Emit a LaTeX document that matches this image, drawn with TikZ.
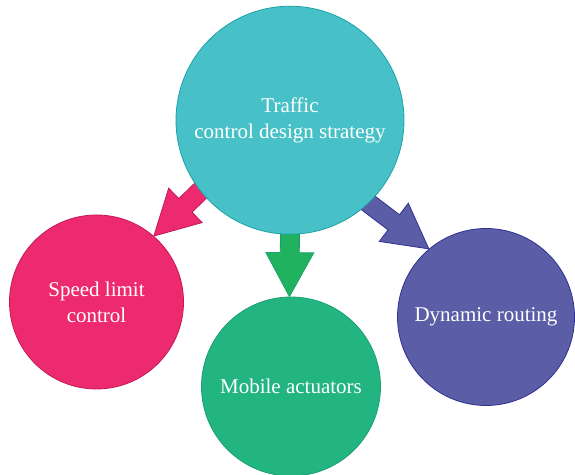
\documentclass[tikz,border=0pt]{standalone}
\usepackage{fontspec}
\setmainfont{Liberation Serif}
\usetikzlibrary{calc,backgrounds}

\definecolor{hubfill}{HTML}{47C1C7}
\definecolor{hubline}{HTML}{1AA3A6}
\definecolor{pinkfill}{HTML}{EE2A6F}
\definecolor{pinkline}{HTML}{C2185B}
\definecolor{greenfill}{HTML}{22B582}
\definecolor{greenline}{HTML}{1BA06E}
\definecolor{arrowgreen}{HTML}{20B25E}
\definecolor{purplefill}{HTML}{5B5EA6}
\definecolor{purpleline}{HTML}{2E3192}

% block arrow from #2 to #3 (tip), drawn with style #1
\newcommand\blockarrow[3]{%
  \coordinate (ba-s) at (#2);
  \coordinate (ba-t) at (#3);
  \coordinate (ba-h) at ($(ba-t)!44pt!(ba-s)$);
  \draw [#1] ($(ba-s)!9.5pt!90:(ba-t)$) -- ($(ba-h)!9.5pt!90:(ba-t)$)
    -- ($(ba-h)!24pt!90:(ba-t)$) -- (ba-t) -- ($(ba-h)!24pt!-90:(ba-t)$)
    -- ($(ba-h)!9.5pt!-90:(ba-t)$) -- ($(ba-s)!9.5pt!-90:(ba-t)$) -- cycle;
}

\begin{document}
\begin{tikzpicture}[
    x=1pt,y=1pt,
    CN/.style={circle,inner sep=0pt,line width=0.8pt,text=white,align=center,
      font=\fontsize{21}{26}\selectfont},
    BA/.style={line width=0.8pt,line join=miter}
    ]
    \useasboundingbox (0,0) rectangle (575,474);
    \node [CN,fill=hubfill,draw=hubline,minimum size=228pt] (hub) at (290,353.8)
      {Traffic\\control design strategy};
    \node [CN,fill=pinkfill,draw=pinkline,minimum size=174pt] (speed) at (96.5,172)
      {Speed limit\\control};
    \node [CN,fill=greenfill,draw=greenline,minimum size=179pt] (mobile) at (291,87.5)
      {Mobile actuators};
    \node [CN,fill=purplefill,draw=purpleline,minimum size=177pt] (route) at (486,157)
      {Dynamic routing};
    \begin{pgfonlayer}{background}
      \blockarrow{BA,fill=pinkfill,draw=pinkline}{$(hub.218)!5pt!(hub.center)$}{speed.49}
      \blockarrow{BA,fill=arrowgreen,draw=greenline}{$(hub.270)!5pt!(hub.center)$}{mobile.91}
      \blockarrow{BA,fill=purplefill,draw=purpleline}{$(hub.-47.5)!5pt!(hub.center)$}{route.130.5}
    \end{pgfonlayer}
\end{tikzpicture}
\end{document}
